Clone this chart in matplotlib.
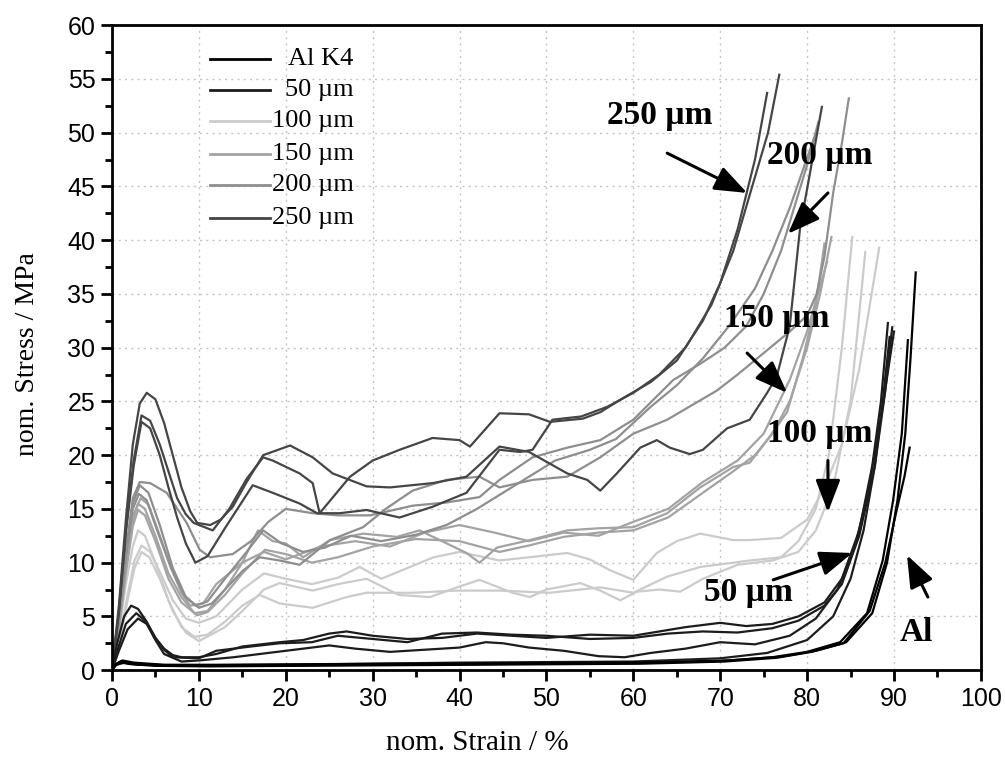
import matplotlib
matplotlib.use("Agg")
import matplotlib.pyplot as plt
from matplotlib.ticker import MultipleLocator

# ---- data (strain in %, stress in MPa) ----
# Al K4 (reference, unfilled)
al1_x = [0, 0.4, 1.0, 2.0, 5, 10, 20, 30, 40, 50, 60, 70, 76, 80, 83.8, 86.9, 88.7, 89.9, 90.9, 91.6]
al1_y = [0, 0.5, 0.8, 0.6, 0.45, 0.4, 0.45, 0.5, 0.55, 0.6, 0.65, 0.85, 1.2, 1.7, 2.6, 5.3, 10.2, 15.8, 22.0, 30.7]
al2_x = [0, 0.5, 1.2, 2.5, 6, 12, 22, 32, 42, 52, 62, 71, 77, 81, 84.5, 87.5, 89.2, 90.4, 91.3, 91.9, 92.5]
al2_y = [0, 0.6, 0.9, 0.7, 0.5, 0.5, 0.55, 0.6, 0.62, 0.68, 0.72, 0.9, 1.25, 1.8, 2.6, 5.3, 10.0, 15.8, 22.0, 29.0, 37.0]
al3_x = [0, 0.4, 1.1, 2.2, 5, 11, 21, 31, 41, 51, 61, 70.5, 76.5, 80.5, 84.2, 87.2, 89.0, 90.2, 91.2, 91.8]
al3_y = [0, 0.45, 0.7, 0.55, 0.4, 0.35, 0.4, 0.45, 0.5, 0.55, 0.6, 0.8, 1.15, 1.7, 2.5, 5.5, 10.0, 14.5, 18.0, 20.7]

# 50 um
s50a_x = [0, 0.6, 1.4, 2.2, 3, 4, 5, 6, 7, 8, 10, 12, 15, 19.3, 22, 25, 27, 30, 34, 38, 42, 46, 50, 55, 60,
          63, 66, 70, 73, 76, 79, 82, 84, 86, 87.5, 88.5, 89.3]
s50a_y = [0, 2.5, 5.0, 6.0, 5.7, 4.5, 3.0, 2.0, 1.4, 1.2, 1.2, 1.5, 2.2, 2.6, 2.8, 3.4, 3.6, 3.2, 2.9, 3.0, 3.4, 3.2, 3.0, 3.3, 3.2,
          3.6, 4.0, 4.4, 4.1, 4.3, 5.0, 6.3, 8.5, 13.0, 19.0, 25.0, 32.3]
s50b_x = [0, 0.7, 1.6, 2.8, 3.8, 5, 6, 7, 10, 12, 16, 19.3, 23, 26, 30, 34, 38, 42, 46, 50, 55, 60, 64, 68,
          72, 76, 79, 82, 84, 86, 87.8, 89, 89.8]
s50b_y = [0, 2.0, 4.3, 5.3, 4.6, 3.0, 1.9, 1.2, 1.1, 1.8, 2.2, 2.5, 2.6, 3.2, 2.9, 2.6, 3.4, 3.5, 3.3, 3.2, 2.9, 3.0, 3.4, 3.6,
          3.5, 3.9, 4.6, 6.0, 8.0, 12.5, 19.0, 26.0, 31.9]
s50c_x = [0, 0.8, 1.8, 3.0, 4, 5, 6, 8, 10, 14, 18, 22, 25, 28, 32, 36, 40, 43, 45, 48, 52, 56, 59, 62,
          66, 70, 74, 78, 81, 83.5, 85.5, 87, 88.5, 90.0]
s50c_y = [0, 1.8, 3.8, 4.8, 4.3, 2.8, 1.5, 0.8, 0.9, 1.2, 1.6, 2.0, 2.3, 2.0, 1.7, 1.9, 2.1, 2.6, 2.5, 2.1, 1.8, 1.3, 1.2, 1.6,
          2.0, 2.6, 2.4, 3.2, 4.8, 7.5, 11.5, 16.5, 23.5, 31.5]
s50d_x = [0, 0.5, 1.5, 3, 10, 20, 30, 40, 50, 60, 70, 75.4, 80, 83, 85, 86.5, 87.8, 88.7, 89.5]
s50d_y = [0, 0.5, 0.7, 0.5, 0.45, 0.5, 0.6, 0.7, 0.75, 0.8, 1.1, 1.6, 2.8, 5.0, 8.5, 13.0, 19.0, 25.0, 31.0]

# 100 um
s100a_x = [0, 0.8, 1.6, 2.4, 3.0, 3.8, 5, 6.5, 8, 9.5, 11, 13, 15, 17, 19.3, 23.1, 27, 29.3, 34.6, 39.7, 44.6,
           50.4, 56.2, 60, 63.9, 67.7, 73.4, 77, 79, 81, 82.5, 84, 85.2]
s100a_y = [0, 3.5, 8.0, 11.5, 13.0, 12.5, 10.0, 6.5, 4.0, 3.1, 3.3, 4.5, 6.0, 7.0, 6.2, 5.8, 6.8, 7.2, 7.2, 7.4, 7.4,
           7.2, 7.7, 7.2, 8.7, 9.6, 10.2, 10.5, 12.0, 15.0, 20.0, 30.0, 40.3]
s100b_x = [0, 0.9, 1.8, 2.6, 3.4, 4.3, 5.5, 7, 8.5, 10, 13, 15, 17.5, 19.3, 23.1, 26, 29.3, 30.8, 33, 36.6, 39.7,
           42.3, 46.1, 48.1, 50, 53.9, 56.2, 58.5, 60.4, 63, 65.4, 68, 72, 76, 79, 81, 83, 85, 86.7]
s100b_y = [0, 2.8, 6.5, 9.5, 11.0, 10.5, 8.5, 5.5, 3.5, 2.7, 4.0, 5.5, 7.5, 8.1, 7.4, 8.0, 8.5, 7.9, 7.0, 6.8, 7.7,
           8.4, 7.2, 6.8, 7.5, 8.1, 7.4, 6.5, 7.3, 7.5, 7.3, 8.5, 9.8, 10.2, 11.0, 13.0, 17.0, 25.0, 38.9]
s100c_x = [0, 0.9, 1.8, 2.6, 3.4, 4.4, 5.6, 7, 8.5, 10, 12, 15, 17.5, 20, 23, 26, 28.5, 31, 34, 37, 40, 44.6,
           48, 52.4, 55, 57.3, 60, 62.7, 65, 67.7, 71.5, 73.4, 77, 80, 82, 84, 86, 88.3]
s100c_y = [0, 3.0, 7.0, 10.2, 11.6, 11.0, 9.0, 6.5, 4.8, 4.4, 5.0, 7.5, 9.0, 8.5, 8.0, 8.6, 9.6, 8.5, 9.5, 10.5, 11.0, 10.2,
           10.5, 10.9, 10.3, 9.3, 8.4, 10.9, 12.0, 12.7, 12.1, 12.1, 12.3, 14.0, 17.0, 21.0, 28.0, 39.3]

# 150 um
s150a_x = [0, 0.8, 1.6, 2.4, 3.0, 3.8, 5, 6.5, 8, 9.5, 11, 13, 15, 16.8, 18.5, 20, 22, 25.1, 28.9, 32.8, 35.4,
           38.5, 40.8, 42.3, 44.3, 48.1, 52.4, 56, 60, 63.9, 67.7, 71.5, 73.4, 75.5, 77.7, 79.5, 81, 82]
s150a_y = [0, 4.0, 9.5, 14.0, 15.5, 15.0, 12.5, 9.0, 6.8, 5.3, 5.5, 7.5, 10.0, 13.0, 12.0, 11.8, 10.5, 12.1, 12.7, 12.4, 13.0,
           11.8, 10.9, 10.0, 11.4, 12.1, 13.0, 13.2, 13.3, 14.6, 17.0, 18.9, 19.3, 21.5, 24.0, 29.0, 34.0, 39.7]
s150b_x = [0, 0.8, 1.6, 2.4, 3.0, 3.8, 5, 6.5, 8, 9.8, 11, 13, 15, 17.6, 20, 23, 26, 30, 35, 40, 44.6, 48, 52,
           56, 60, 64, 68, 71.5, 74, 76, 78, 80, 81.5, 82.8]
s150b_y = [0, 3.8, 9.0, 13.4, 14.9, 14.4, 12.0, 8.5, 6.3, 5.1, 5.4, 7.0, 9.0, 11.2, 10.8, 10.0, 10.5, 11.5, 12.2, 12.0, 11.0, 11.6, 12.4,
           12.8, 13.0, 14.2, 16.5, 18.5, 20.0, 22.0, 25.0, 30.0, 35.0, 40.3]
s150c_x = [0, 0.8, 1.6, 2.5, 3.3, 4.2, 5.3, 6.8, 8, 9, 10.5, 12, 15, 17.5, 20, 24, 28, 32, 36, 40, 44, 48, 52,
           56, 60, 64, 68, 72, 75, 78, 80, 82.3]
s150c_y = [0, 4.2, 9.8, 14.5, 16.0, 15.4, 13.0, 9.5, 7.2, 6.0, 6.2, 8.0, 10.0, 11.0, 10.3, 11.5, 12.0, 11.5, 12.8, 13.5, 12.8, 12.0, 12.8,
           12.5, 13.8, 15.0, 17.5, 19.5, 22.0, 27.0, 31.5, 38.0]

# 200 um
s200a_x = [0, 0.8, 1.6, 2.4, 3.2, 4.4, 6.3, 8.6, 10.1, 11.3, 13.9, 16, 18, 20, 23.1, 26, 29.7, 34.6, 38.5, 42.3,
           44.6, 48.4, 52.4, 56.2, 60, 64.6, 67.7, 70.5, 73, 75, 77, 78.5, 80, 81.3]
s200a_y = [0, 5.0, 11.0, 16.0, 17.5, 17.4, 16.5, 13.7, 11.2, 10.5, 10.8, 12.0, 13.8, 15.0, 14.6, 14.4, 14.4, 15.3, 15.6, 16.1,
           17.7, 19.8, 20.7, 21.4, 23.3, 27.0, 28.5, 30.0, 32.0, 35.0, 39.0, 43.0, 47.0, 51.0]
s200b_x = [0, 0.8, 1.6, 2.4, 3.2, 4.2, 5.5, 7, 8.5, 10, 11.5, 13, 15, 17, 19.3, 21.6, 25.1, 28.9, 31.5, 34.6,
           38.5, 42.3, 44.6, 48.4, 52.4, 56.2, 60, 63.9, 66, 69.6, 72, 75, 78, 80, 81.1, 82, 83, 84, 84.8]
s200b_y = [0, 5.0, 11.0, 15.5, 17.2, 16.5, 13.5, 9.5, 6.8, 5.8, 6.2, 7.5, 9.2, 10.5, 10.2, 9.8, 12.1, 13.3, 15.0, 16.7,
           17.7, 18.0, 17.0, 17.7, 18.0, 19.8, 22.0, 23.3, 24.3, 26.0, 27.5, 29.5, 31.5, 33.0, 35.0, 38.5, 44.4, 49.0, 53.2]
s200c_x = [0, 0.8, 1.6, 2.4, 3.1, 4, 5.2, 6.8, 8.3, 9.6, 11, 13, 15.5, 17.4, 19.5, 22, 24.5, 27.5, 31, 35, 38.5,
           42, 45, 48, 51, 55, 58, 62, 65, 68, 71, 74, 76, 78, 79.5, 80.8]
s200c_y = [0, 4.5, 10.5, 15.0, 16.4, 15.8, 13.0, 9.5, 7.0, 6.0, 6.4, 8.5, 11.0, 13.0, 11.8, 11.0, 11.4, 12.5, 12.0, 12.6, 13.5,
           15.0, 16.5, 18.0, 19.5, 20.5, 21.5, 24.5, 26.5, 29.0, 32.0, 35.5, 39.0, 43.0, 46.5, 49.5]

# 250 um
s250a_x = [0, 0.8, 1.6, 2.4, 3.2, 4.0, 5, 6, 7, 8, 9, 9.8, 11.3, 12.5, 13.9, 15.5, 17.4, 20.5, 23.1, 25.4,
           29.3, 32, 36.9, 40.8, 44.6, 48, 52.4, 54.7, 56.2, 58.1, 60.8, 62.7, 64.2, 66.5, 68, 70.8, 73.4,
           75.4, 76.5, 78, 79.2, 80.5, 81.7]
s250a_y = [0, 6.0, 14.0, 21.0, 24.8, 25.8, 25.2, 23.0, 20.0, 17.0, 14.8, 13.7, 13.5, 14.0, 15.2, 17.5, 20.0, 20.9, 19.8, 18.3,
           17.1, 17.0, 17.4, 18.0, 20.8, 20.3, 18.3, 17.7, 16.7, 18.3, 20.7, 21.4, 20.7, 20.1, 20.5, 22.5, 23.3,
           25.8, 27.3, 32.0, 41.2, 47.0, 52.4]
s250b_x = [0, 0.8, 1.6, 2.5, 3.4, 4.4, 5.5, 6.5, 7.5, 8.5, 9.4, 11.6, 13.5, 15.5, 17.4, 18.5, 21.6, 23.1, 23.9,
           27.4, 30, 33.1, 36.9, 40, 41.2, 44.6, 48, 50.4, 54.2, 56.2, 58.8, 62, 65, 68, 70, 72, 74, 75.4]
s250b_y = [0, 5.5, 13.0, 19.5, 23.7, 23.2, 21.0, 18.5, 16.0, 14.5, 13.7, 13.0, 15.0, 17.8, 19.8, 19.5, 18.3, 17.4, 14.6,
           18.0, 19.5, 20.5, 21.6, 21.4, 20.8, 23.9, 23.8, 23.1, 23.4, 24.0, 25.3, 26.8, 28.8, 32.5, 36.0, 41.0, 47.5, 53.7]
s250c_x = [0, 0.8, 1.6, 2.5, 3.4, 4.4, 5.5, 6.5, 7.5, 8.5, 9.6, 11, 13, 16.2, 18.5, 21.6, 23.6, 26.2, 29.3, 33.1,
           36.9, 40.8, 44.6, 47, 48.4, 50.7, 54, 57, 60, 63, 66, 69, 71.5, 73.5, 75.5, 76.8]
s250c_y = [0, 5.3, 12.8, 19.0, 23.1, 22.5, 20.0, 17.0, 14.2, 11.8, 10.0, 10.6, 13.2, 17.2, 16.5, 15.5, 14.6, 14.6, 14.9, 14.2,
           15.2, 16.5, 20.5, 20.3, 20.5, 23.3, 23.6, 24.5, 25.8, 27.5, 30.0, 34.0, 39.0, 44.5, 50.0, 55.4]

legend_labels = ["Al K4", "50 µm", "100 µm", "150 µm", "200 µm", "250 µm"]
group_colors = ["#000000", "#1c1c1c", "#cbcbcb", "#a3a3a3", "#8e8e8e", "#454545"]

# ---- figure ----
fig = plt.figure(figsize=(10.05, 7.65), dpi=100)
ax = fig.add_axes([0.1114, 0.124, 0.8646, 0.843])

serif = ["Liberation Serif", "DejaVu Serif"]
sans = ["Liberation Sans", "DejaVu Sans"]

groups = [
    (2, [(s100a_x, s100a_y), (s100b_x, s100b_y), (s100c_x, s100c_y)]),
    (3, [(s150a_x, s150a_y), (s150b_x, s150b_y), (s150c_x, s150c_y)]),
    (4, [(s200a_x, s200a_y), (s200b_x, s200b_y), (s200c_x, s200c_y)]),
    (5, [(s250a_x, s250a_y), (s250b_x, s250b_y), (s250c_x, s250c_y)]),
    (1, [(s50a_x, s50a_y), (s50b_x, s50b_y), (s50c_x, s50c_y), (s50d_x, s50d_y)]),
    (0, [(al1_x, al1_y), (al2_x, al2_y), (al3_x, al3_y)]),
]
for gi, curves in groups:
    for cx, cy in curves:
        ax.plot(cx, cy, color=group_colors[gi], lw=1.6, solid_joinstyle="round")

ax.set_xlim(0, 100)
ax.set_ylim(0, 60)
ax.xaxis.set_major_locator(MultipleLocator(10))
ax.xaxis.set_minor_locator(MultipleLocator(5))
ax.yaxis.set_major_locator(MultipleLocator(5))
ax.yaxis.set_minor_locator(MultipleLocator(2.5))
ax.tick_params(which="major", direction="out", length=8, width=2, labelsize=18, pad=4)
ax.tick_params(which="minor", direction="out", length=5, width=2)
for lab in ax.get_xticklabels() + ax.get_yticklabels():
    lab.set_family(sans)
for sp in ax.spines.values():
    sp.set_linewidth(2)
ax.grid(True, which="major", color="#c4c4c4", linestyle=(0, (1.5, 3)), lw=1)
ax.set_axisbelow(True)

ax.set_xlabel("nom. Strain / %", family=serif, fontsize=21)
ax.xaxis.set_label_coords(0.421, -0.093)
ax.set_ylabel("nom. Stress / MPa", family=serif, fontsize=20)
ax.yaxis.set_label_coords(-0.083, 0.49)

# legend drawn by hand so the labels can be right-aligned
leg_y = [0.947, 0.899, 0.851, 0.800, 0.752, 0.701]
for lbl, col, yy in zip(legend_labels, group_colors, leg_y):
    ax.plot([0.113, 0.182], [yy, yy], transform=ax.transAxes, color=col, lw=2)
    ax.text(0.278, yy, lbl, transform=ax.transAxes, ha="right", va="center",
            family=serif, fontsize=19)

# annotations with arrows
notes = [
    ("250 µm", (63.1, 51.6), (63.9, 48.1), (73.1, 44.4)),
    ("200 µm", (81.5, 47.9), (82.4, 44.4), (77.8, 40.6)),
    ("150 µm", (76.5, 32.7), (73.1, 29.5), (77.7, 25.8)),
    ("100 µm", (81.5, 22.0), (82.4, 19.5), (82.4, 14.7)),
    ("50 µm", (73.2, 7.2), (76.1, 8.4), (85.2, 10.9)),
    ("Al", (92.6, 3.5), (93.9, 6.8), (91.5, 10.7)),
]
for txt, tpos, tail, tip in notes:
    ax.text(tpos[0], tpos[1], txt, ha="center", va="center", family=serif,
            fontsize=24, fontweight="bold")
    ax.annotate("", xy=tip, xytext=tail,
                arrowprops=dict(arrowstyle="-|>,head_length=1.1,head_width=0.42",
                                color="black", lw=2.2, mutation_scale=18,
                                shrinkA=0, shrinkB=0))

fig.savefig("out.png", dpi=100)
